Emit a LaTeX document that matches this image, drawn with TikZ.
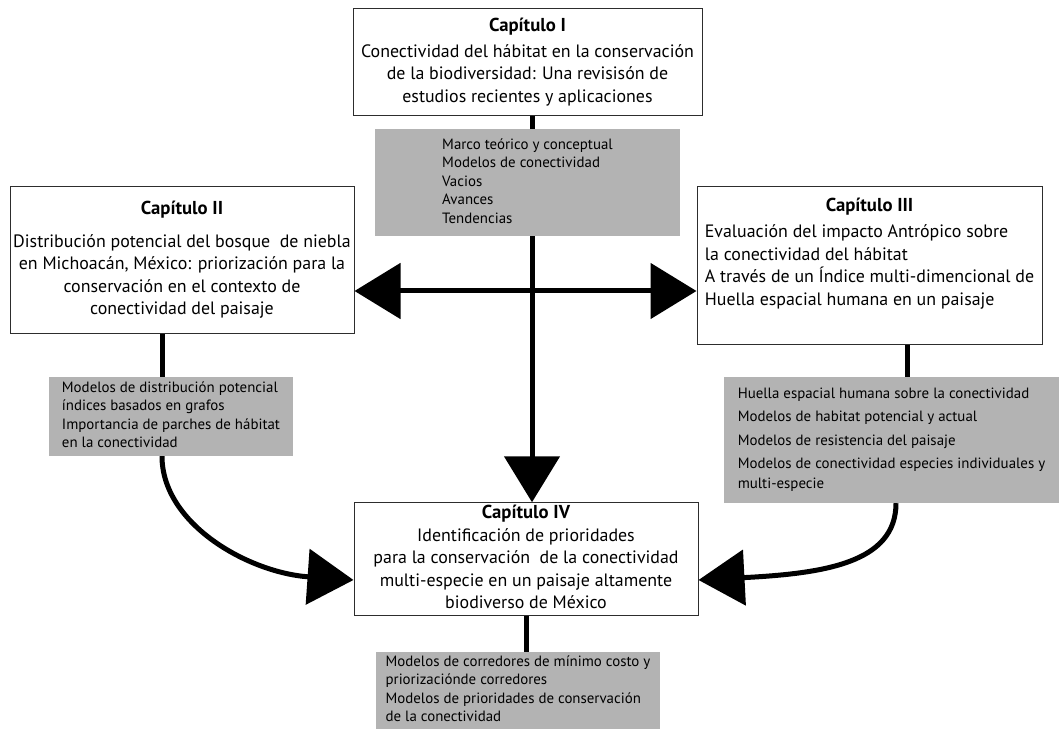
\documentclass[tikz,border=0pt]{standalone}
\usepackage{fontspec}
\setmainfont{PT Sans}
\usepackage{tikz}
\usetikzlibrary{arrows.meta,backgrounds}

\definecolor{boxgray}{RGB}{179,179,179}
\definecolor{edgegray}{RGB}{45,45,45}

\tikzset{
  chapbox/.style={draw=edgegray, line width=1pt, fill=white, inner sep=0pt,
    font=\fontsize{17.9}{22.5}\selectfont},
  notebox/.style={fill=boxgray, inner sep=0pt,
    font=\fontsize{14.9}{18.5}\selectfont},
  link/.style={line width=5pt},
}
\newcommand{\captitle}[1]{{\fontsize{18.7}{22.5}\selectfont\bfseries #1}}

\begin{document}
\begin{tikzpicture}[x=1pt,y=1pt,>={Triangle[length=46pt,width=55pt]}]
\useasboundingbox (0,0) rectangle (1059,729);

\node[chapbox, minimum width=349pt, minimum height=107pt] (capI) at (527.5,666.5)
  {\begin{tabular}{@{}c@{}}\captitle{Capítulo I}\\[3pt]
   Conectividad del hábitat en la conservación\\
   de la biodiversidad: Una revisisón de\\
   estudios recientes y aplicaciones\end{tabular}};
\node[notebox, minimum width=305pt, minimum height=107pt] (notaI) at (527.5,546.5)
  {\begin{tabular}{@{}l@{}}Marco teórico y conceptual\\
   Modelos de conectividad\\ Vacios\\ Avances\\ Tendencias\end{tabular}};

\node[chapbox, minimum width=344pt, minimum height=147pt] (capII) at (182,468.5)
  {\begin{tabular}{@{}c@{}}\captitle{Capítulo II}\\[10pt]
   Distribución potencial del bosque~ de niebla\\
   en Michoacán, México: priorización para la\\
   conservación en el contexto de\\
   conectividad del paisaje\end{tabular}};
\node[notebox, minimum width=244pt, minimum height=79pt] (notaII) at (171,312.5)
  {\begin{tabular}{@{}l@{}}Modelos de distribución potencial\\
   índices basados en grafos\\
   Importancia de parches de hábitat\\
   en la conectividad\end{tabular}};

\node[chapbox, minimum width=345pt, minimum height=158pt] (capIII) at (869.5,463)
  {\begin{tabular}{@{}l@{}}\multicolumn{1}{@{}c@{}}{\captitle{Capítulo III}}\\[4pt]
   Evaluación del impacto Antrópico sobre\\
   la conectividad del hábitat\\
   A través de un Índice multi-dimencional de\\
   Huella espacial humana en un paisaje\\[24pt]\end{tabular}};
\node[notebox, minimum width=335pt, minimum height=126pt] (notaIII) at (891.5,289)
  {\begin{tabular}{@{}l@{}}Huella espacial humana sobre la conectividad\\[5pt]
   Modelos de habitat potencial y actual\\[5pt]
   Modelos de resistencia del paisaje\\[5pt]
   Modelos de conectividad especies individuales y\\[1.5pt]
   multi-especie\end{tabular}};

\node[chapbox, minimum width=344pt, minimum height=112pt] (capIV) at (526,170)
  {\begin{tabular}{@{}c@{}}\captitle{Capítulo IV}\\
   Identificación de prioridades\\
   para la conservación~ de la conectividad\\
   multi-especie en un paisaje altamente\\
   biodiverso de México\end{tabular}};
\node[notebox, minimum width=284pt, minimum height=77pt] (notaIV) at (518,38.5)
  {\begin{tabular}{@{}l@{}}Modelos de corredores de mínimo costo y\\
   priorizaciónde corredores\\
   Modelos de prioridades de conservación\\
   de la conectividad\end{tabular}};

\begin{scope}[on background layer]
\draw[link,->] ([xshift=4.5pt]capI.south) -- ([xshift=4.5pt]capI.south |- capIV.north);
\draw[link,<->] ([yshift=-30.5pt]capII.east) -- ([yshift=-30.5pt]capII.east -| capIII.west);
\draw[link] ([xshift=-20pt]capII.south) -- ([xshift=-20pt]capII.south |- notaII.north);
\draw[link,->] ([xshift=-9pt]notaII.south)
  to[out=-90,in=176,out distance=68pt,in distance=105pt] ([yshift=-21pt]capIV.west);
\draw[link] ([xshift=37.5pt]capIII.south) -- ([xshift=37.5pt]capIII.south |- notaIII.north);
\draw[link,->] ([xshift=4.5pt]notaIII.south)
  to[out=-90,in=3,out distance=60pt,in distance=125pt] ([yshift=-21pt]capIV.east);
\draw[link] (capIV.south) -- (capIV.south |- notaIV.north);
\end{scope}
\end{tikzpicture}
\end{document}
